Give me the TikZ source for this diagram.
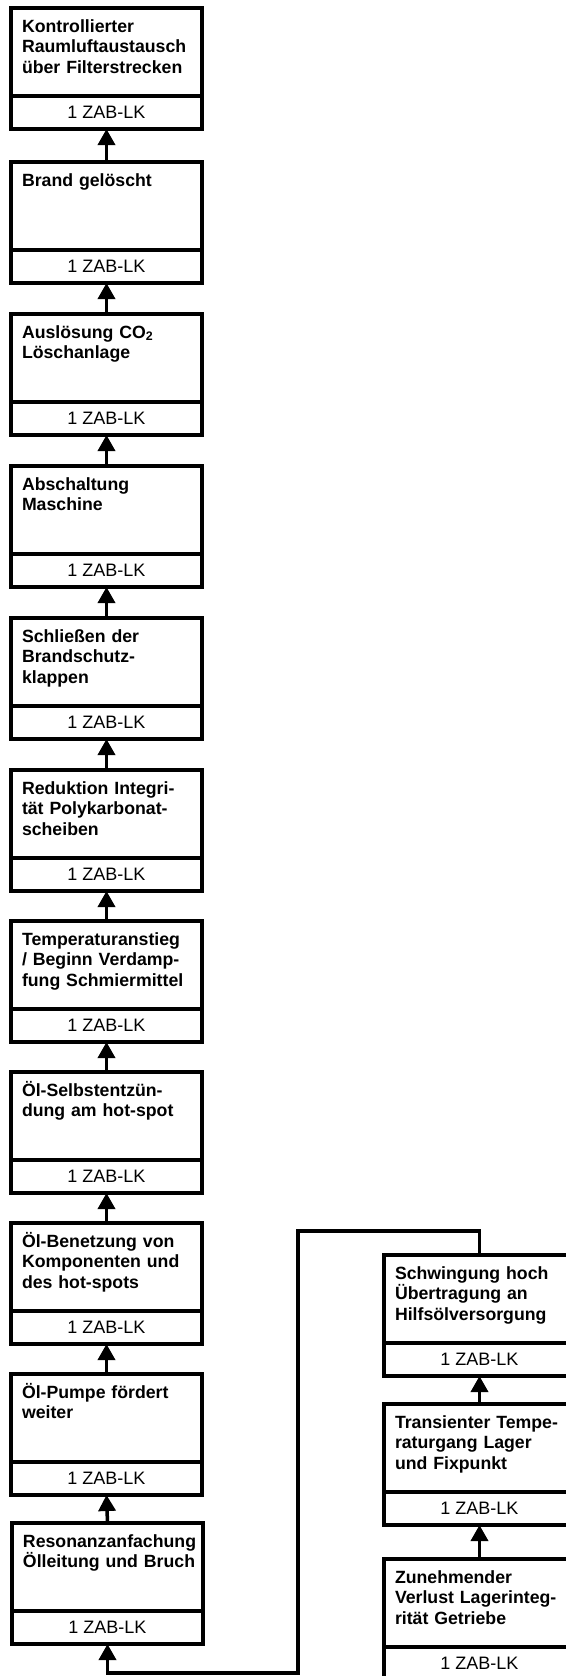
\documentclass[tikz,border=0pt]{standalone}
\usepackage{fontspec}
\setmainfont{Liberation Sans}
\usetikzlibrary{arrows.meta}
\newcommand{\evbox}[4]{%
  \node[upbox] (#1) at (#2,#3) {};
  \node[txt] (#1t) at ([xshift=11pt,yshift=-7pt]#1.north west) {\rule{0pt}{17pt}#4};
  \node[zbox] (#1z) at (#1.south) {1 ZAB-LK};
}
\begin{document}
\begin{tikzpicture}[x=1pt,y=-1pt,
  upbox/.style={draw, line width=3.5pt, minimum width=191pt, minimum height=88pt, outer sep=0pt, inner sep=0pt, anchor=north west},
  zbox/.style={draw, line width=3.5pt, minimum width=191pt, minimum height=33pt, outer sep=0pt, inner sep=0pt, anchor=north, font=\fontsize{18}{20}\selectfont},
  txt/.style={anchor=north west, inner sep=0pt, outer sep=0pt, text width=185pt, align=left, font=\bfseries\fontsize{17.7}{20.6}\selectfont},
  flow/.style={line width=3.5pt, -{Triangle[length=16pt,width=17pt]}},
]
\useasboundingbox[fill=white] (0,0) rectangle (565,1676);
% left column
\evbox{b1}{11}{8}{Kontrollierter\\Raumluftaustausch\\über Filterstrecken}
\evbox{b2}{11}{162}{Brand gelöscht}
\evbox{b3}{11}{314}{Auslösung CO\textsubscript{2}\\Löschanlage}
\evbox{b4}{11}{466}{Abschaltung\\Maschine}
\evbox{b5}{11}{618}{Schließen der\\Brandschutz-\\klappen}
\evbox{b6}{11}{770}{Reduktion Integri-\\tät Polykarbonat-\\scheiben}
\evbox{b7}{11}{921}{Temperaturanstieg\\/ Beginn Verdamp-\\fung Schmiermittel}
\evbox{b8}{11}{1072}{Öl-Selbstentzün-\\dung am hot-spot}
\evbox{b9}{11}{1223}{Öl-Benetzung von\\Komponenten und\\des hot-spots}
\evbox{b10}{11}{1374}{Öl-Pumpe fördert\\weiter}
\evbox{b11}{12}{1523}{Resonanzanfachung\\Ölleitung und Bruch}
% right column
\evbox{r1}{384}{1255}{Schwingung hoch\\Übertragung an\\Hilfsölversorgung}
\evbox{r2}{384}{1404}{Transienter Tempe-\\raturgang Lager\\und Fixpunkt}
\evbox{r3}{384}{1559}{Zunehmender\\Verlust Lagerinteg-\\rität Getriebe}
% arrows
\draw[flow] (b2.north) -- (b1z.south);
\draw[flow] (b3.north) -- (b2z.south);
\draw[flow] (b4.north) -- (b3z.south);
\draw[flow] (b5.north) -- (b4z.south);
\draw[flow] (b6.north) -- (b5z.south);
\draw[flow] (b7.north) -- (b6z.south);
\draw[flow] (b8.north) -- (b7z.south);
\draw[flow] (b9.north) -- (b8z.south);
\draw[flow] (b10.north) -- (b9z.south);
\draw[flow] (b11.north) -- (b10z.south);
\draw[flow] (r2.north) -- (r1z.south);
\draw[flow] (r3.north) -- (r2z.south);
\coordinate (k1) at (298,1231);
\coordinate (k2) at (298,1673);
\draw[flow] (r1.north) |- (k1) -- (k2) -| (b11z.south);
\end{tikzpicture}
\end{document}
